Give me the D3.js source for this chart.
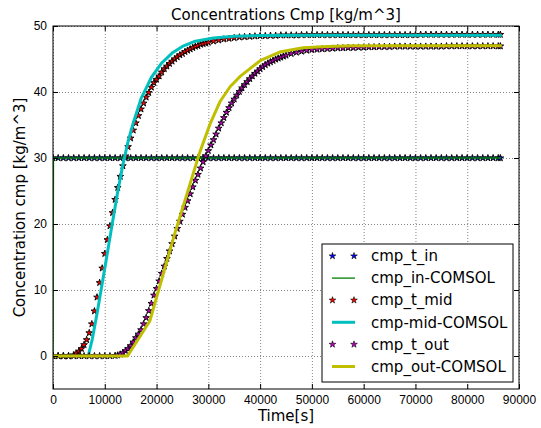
<!DOCTYPE html>
<html>
<head>
<meta charset="utf-8">
<script src="https://cdn.jsdelivr.net/npm/d3@7"></script>
<style>
  body { margin: 0; background: #fff; }
  svg { font-family: "DejaVu Sans", sans-serif; }
  .grid line { stroke: #000; stroke-width: 0.6; stroke-dasharray: 1,2; opacity: 0.8; }
  .axis text { font-size: 12px; fill: #000; }
  .axis line { stroke: #000; }
</style>
</head>
<body>
<div id="chart"></div>
<script>
const xTicks = [0, 10000, 20000, 30000, 40000, 50000, 60000, 70000, 80000, 90000];
const yTicks = [0, 10, 20, 30, 40, 50];

// cmp_t_in (markers)
const tIn = [0, 1000, 2000, 3000, 4000, 5000, 6000, 7000, 8000, 9000,
  10000, 11000, 12000, 13000, 14000, 15000, 16000, 17000, 18000, 19000,
  20000, 21000, 22000, 23000, 24000, 25000, 26000, 27000, 28000, 29000,
  30000, 31000, 32000, 33000, 34000, 35000, 36000, 37000, 38000, 39000,
  40000, 41000, 42000, 43000, 44000, 45000, 46000, 47000, 48000, 49000,
  50000, 51000, 52000, 53000, 54000, 55000, 56000, 57000, 58000, 59000,
  60000, 61000, 62000, 63000, 64000, 65000, 66000, 67000, 68000, 69000,
  70000, 71000, 72000, 73000, 74000, 75000, 76000, 77000, 78000, 79000,
  80000, 81000, 82000, 83000, 84000, 85000, 86000, 86400];
const cmpTIn = [30, 30, 30, 30, 30, 30, 30, 30, 30, 30,
  30, 30, 30, 30, 30, 30, 30, 30, 30, 30,
  30, 30, 30, 30, 30, 30, 30, 30, 30, 30,
  30, 30, 30, 30, 30, 30, 30, 30, 30, 30,
  30, 30, 30, 30, 30, 30, 30, 30, 30, 30,
  30, 30, 30, 30, 30, 30, 30, 30, 30, 30,
  30, 30, 30, 30, 30, 30, 30, 30, 30, 30,
  30, 30, 30, 30, 30, 30, 30, 30, 30, 30,
  30, 30, 30, 30, 30, 30, 30, 30];

// cmp_in-COMSOL
const tInComsol = [0, 100, 86400];
const cmpInComsol = [0, 30, 30];

// cmp_t_mid (markers)
const tMid = [0, 1000, 2000, 3000,
  4000, 4500, 5000, 5500, 6000, 6500, 7000, 7500, 8000, 8500,
  9000, 9500, 10000, 10500, 11000, 11500, 12000, 12500, 13000, 13500,
  14000, 14500, 15000, 15500, 16000, 16500, 17000, 17500, 18000, 18500,
  19000, 19500, 20000, 20500, 21000, 21500, 22000, 22500, 23000, 23500,
  24000, 24500, 25000, 25500, 26000, 26500, 27000, 27500, 28000, 28500,
  29000, 29500, 30000,
  31000, 32000, 33000, 34000, 35000, 36000, 37000, 38000, 39000, 40000,
  41000, 42000, 43000, 44000, 45000, 46000, 47000, 48000, 49000, 50000,
  51000, 52000, 53000, 54000, 55000, 56000, 57000, 58000, 59000, 60000,
  61000, 62000, 63000, 64000, 65000, 66000, 67000, 68000, 69000, 70000,
  71000, 72000, 73000, 74000, 75000, 76000, 77000, 78000, 79000, 80000,
  81000, 82000, 83000, 84000, 85000, 86000, 86400];
const cmpTMid = [0, 0, 0, 0,
  0.15, 0.4, 0.7, 1.1, 1.7, 2.45, 3.5, 4.85, 6.8, 8.9,
  11.1, 13.3, 15.5, 17.6, 19.7, 21.7, 23.7, 25.5, 27.2, 28.8,
  30.3, 31.7, 33.0, 34.2, 35.3, 36.4, 37.4, 38.3, 39.2, 39.9,
  40.7, 41.4, 41.9, 42.4, 43.0, 43.5, 43.9, 44.3, 44.65, 45.0,
  45.3, 45.6, 45.8, 46.1, 46.3, 46.5, 46.7, 46.9, 47.0, 47.2,
  47.3, 47.4, 47.5,
  47.7, 47.85, 48.0, 48.1, 48.2, 48.3, 48.35, 48.4, 48.45, 48.5,
  48.5, 48.55, 48.55, 48.6, 48.6, 48.6, 48.6, 48.65, 48.65, 48.65,
  48.65, 48.65, 48.65, 48.65, 48.65, 48.65, 48.65, 48.65, 48.65, 48.65,
  48.65, 48.65, 48.65, 48.65, 48.65, 48.65, 48.65, 48.65, 48.65, 48.65,
  48.7, 48.7, 48.7, 48.7, 48.7, 48.7, 48.7, 48.7, 48.7, 48.7,
  48.7, 48.7, 48.7, 48.7, 48.7, 48.7, 48.7];

// cmp-mid-COMSOL
const tMidComsol = [0, 6800, 7600, 8500, 9500, 10500, 11500, 12500, 13500, 14500,
  15500, 17000, 19000, 21000, 23000, 25000, 27500, 31000, 35000, 40000, 50000, 86400];
const cmpMidComsol = [0, 0, 2.6, 6.4, 11.0, 15.6, 20.3, 24.9, 29.0, 32.5,
  35.3, 39.0, 42.2, 44.4, 45.9, 46.9, 47.7, 48.2, 48.45, 48.55, 48.6, 48.6];

// cmp_t_out (markers)
const tOut = [0, 1000, 2000, 3000, 4000, 5000, 6000, 7000, 8000, 9000, 10000, 11000, 12000,
  12500, 13000, 13500, 14000, 14500, 15000, 15500, 16000, 16500, 17000,
  17500, 18000, 18500, 19000, 19500, 20000, 20500, 21000, 21500, 22000,
  22500, 23000, 23500, 24000, 24500, 25000, 25500, 26000, 26500, 27000,
  27500, 28000, 28500, 29000, 29500, 30000, 30500, 31000, 31500, 32000,
  32500, 33000, 33500, 34000, 34500, 35000, 35500, 36000, 36500, 37000,
  37500, 38000, 38500, 39000, 39500, 40000, 40500, 41000, 41500, 42000,
  42500, 43000, 43500, 44000, 44500, 45000,
  46000, 47000, 48000, 49000, 50000, 51000, 52000, 53000, 54000, 55000,
  56000, 57000, 58000, 59000, 60000, 61000, 62000, 63000, 64000, 65000,
  66000, 67000, 68000, 69000, 70000, 71000, 72000, 73000, 74000, 75000,
  76000, 77000, 78000, 79000, 80000, 81000, 82000, 83000, 84000, 85000,
  86000, 86400];
const cmpTOut = [0, 0, 0, 0, 0, 0, 0, 0, 0, 0, 0, 0, 0.05,
  0.12, 0.25, 0.47, 0.78, 1.1, 1.55, 2.1, 2.75, 3.3, 3.95,
  4.85, 5.8, 6.85, 7.95, 9.2, 10.2, 11.35, 12.5, 13.6, 14.75,
  15.9, 17.0, 18.15, 19.3, 20.4, 21.45, 22.5, 23.5, 24.55, 25.6,
  26.6, 27.5, 28.45, 29.4, 30.3, 31.1, 31.95, 32.75, 33.6, 34.5,
  35.3, 36.1, 36.9, 37.6, 38.3, 38.9, 39.5, 40.05, 40.6, 41.1,
  41.55, 42.0, 42.4, 42.8, 43.15, 43.5, 43.8, 44.1, 44.35, 44.55,
  44.75, 44.95, 45.1, 45.25, 45.4, 45.55,
  45.8, 46.0, 46.15, 46.3, 46.4, 46.45, 46.5, 46.55, 46.6, 46.65,
  46.65, 46.7, 46.7, 46.75, 46.75, 46.8, 46.8, 46.85, 46.85, 46.85,
  46.9, 46.9, 46.9, 46.9, 46.9, 46.9, 46.9, 46.9, 46.9, 46.9,
  46.95, 46.95, 46.95, 46.95, 46.95, 46.95, 46.95, 46.95, 46.95, 46.95,
  46.95, 46.95];

// cmp_out-COMSOL
const tOutComsol = [0, 14400, 18700, 23500, 28400, 30400, 32300, 34200, 36200, 40100, 44000, 48300, 53200, 58000, 86400];
const cmpOutComsol = [0, 0, 5.3, 18.5, 31, 35.3, 38.6, 40.8, 42.4, 44.8, 46.1, 46.7, 46.9, 47.0, 47.0];

const margin = {top: 26, right: 22, bottom: 39, left: 53};
const width = 541 - margin.left - margin.right,
      height = 428 - margin.top - margin.bottom;

const svg = d3.select("#chart")
              .append("svg")
              .attr("width", 541)
              .attr("height", 428);

const g = svg.append("g")
             .attr("transform", `translate(${margin.left},${margin.top})`);

const x = d3.scaleLinear().domain([0, 90000]).range([0, width]);
const y = d3.scaleLinear().domain([-5, 50]).range([height, 0]);

svg.append("defs").append("clipPath")
   .attr("id", "plot-clip")
   .append("rect")
   .attr("width", width)
   .attr("height", height);

// grid
g.append("g")
 .attr("class", "grid")
 .attr("transform", `translate(0,${height})`)
 .call(d3.axisBottom(x).tickValues(xTicks).tickSize(-height).tickFormat(""))
 .call(s => s.select(".domain").remove());
g.append("g")
 .attr("class", "grid")
 .call(d3.axisLeft(y).tickValues(yTicks).tickSize(-width).tickFormat(""))
 .call(s => s.select(".domain").remove());

const series = [
  {label: "cmp_t_in", t: tIn, c: cmpTIn, kind: "star", color: "#0000ff"},
  {label: "cmp_in-COMSOL", t: tInComsol, c: cmpInComsol, kind: "line", color: "#008000", lw: 1.3},
  {label: "cmp_t_mid", t: tMid, c: cmpTMid, kind: "star", color: "#ff0000"},
  {label: "cmp-mid-COMSOL", t: tMidComsol, c: cmpMidComsol, kind: "line", color: "#00bfbf", lw: 3},
  {label: "cmp_t_out", t: tOut, c: cmpTOut, kind: "star", color: "#bf00bf"},
  {label: "cmp_out-COMSOL", t: tOutComsol, c: cmpOutComsol, kind: "line", color: "#bfbf00", lw: 3}
];

const star = d3.symbol().type(d3.symbolStar).size(14);

const plot = g.append("g").attr("clip-path", "url(#plot-clip)");

series.forEach(s => {
    const idx = d3.range(s.t.length);
    if (s.kind === "line") {
        const line = d3.line()
                       .x(i => x(s.t[i]))
                       .y(i => y(s.c[i]));
        plot.append("path")
            .datum(idx)
            .attr("fill", "none")
            .attr("stroke", s.color)
            .attr("stroke-width", s.lw)
            .attr("stroke-linecap", "square")
            .attr("stroke-linejoin", "round")
            .attr("d", line);
    } else {
        plot.append("g")
            .selectAll("path")
            .data(idx)
            .enter()
            .append("path")
            .attr("d", star)
            .attr("transform", i => `translate(${x(s.t[i])},${y(s.c[i])})`)
            .attr("fill", s.color)
            .attr("stroke", "#000")
            .attr("stroke-width", 0.9);
    }
});

// axes with inward ticks on all sides
g.append("g")
 .attr("class", "axis")
 .attr("transform", `translate(0,${height})`)
 .call(d3.axisBottom(x).tickValues(xTicks).tickSizeInner(-5).tickSizeOuter(0)
       .tickPadding(6).tickFormat(d3.format("d")));
g.append("g")
 .attr("class", "axis")
 .call(d3.axisLeft(y).tickValues(yTicks).tickSizeInner(-5).tickSizeOuter(0)
       .tickPadding(6).tickFormat(d3.format("d")));
g.append("g")
 .attr("class", "axis")
 .call(d3.axisTop(x).tickValues(xTicks).tickSizeInner(-5).tickSizeOuter(0).tickFormat(""));
g.append("g")
 .attr("class", "axis")
 .attr("transform", `translate(${width},0)`)
 .call(d3.axisRight(y).tickValues(yTicks).tickSizeInner(-5).tickSizeOuter(0).tickFormat(""));
g.selectAll(".axis .domain").remove();

g.append("rect")
 .attr("width", width)
 .attr("height", height)
 .attr("fill", "none")
 .attr("stroke", "#000")
 .attr("stroke-width", 1);

// titles
svg.append("text")
   .attr("x", margin.left + width / 2)
   .attr("y", 20)
   .attr("text-anchor", "middle")
   .style("font-size", "15px")
   .text("Concentrations Cmp [kg/m^3]");
svg.append("text")
   .attr("x", margin.left + width / 2)
   .attr("y", 421)
   .attr("text-anchor", "middle")
   .style("font-size", "15px")
   .text("Time[s]");
svg.append("text")
   .attr("transform", `translate(25,${margin.top + height / 2}) rotate(-90)`)
   .attr("text-anchor", "middle")
   .style("font-size", "15px")
   .text("Concentration cmp [kg/m^3]");

// legend
const legend = svg.append("g").attr("transform", "translate(322,244)");
legend.append("rect")
      .attr("width", 191)
      .attr("height", 138)
      .attr("fill", "#fff")
      .attr("stroke", "#000")
      .attr("stroke-width", 1);

const rows = legend.selectAll("g.row")
                   .data(series)
                   .enter()
                   .append("g")
                   .attr("class", "row")
                   .attr("transform", (d, i) => `translate(0,${12 + i * 22.1})`);

rows.each(function(d) {
    const r = d3.select(this);
    if (d.kind === "line") {
        r.append("line")
         .attr("x1", 10).attr("x2", 33)
         .attr("stroke", d.color)
         .attr("stroke-width", d.lw);
    } else {
        r.selectAll("path")
         .data([10.5, 32])
         .enter()
         .append("path")
         .attr("d", star)
         .attr("transform", px => `translate(${px},0)`)
         .attr("fill", d.color)
         .attr("stroke", "#000")
         .attr("stroke-width", 0.6);
    }
});

rows.append("text")
    .attr("x", 49)
    .attr("dy", "0.35em")
    .style("font-size", "15px")
    .text(d => d.label);
</script>
</body>
</html>
